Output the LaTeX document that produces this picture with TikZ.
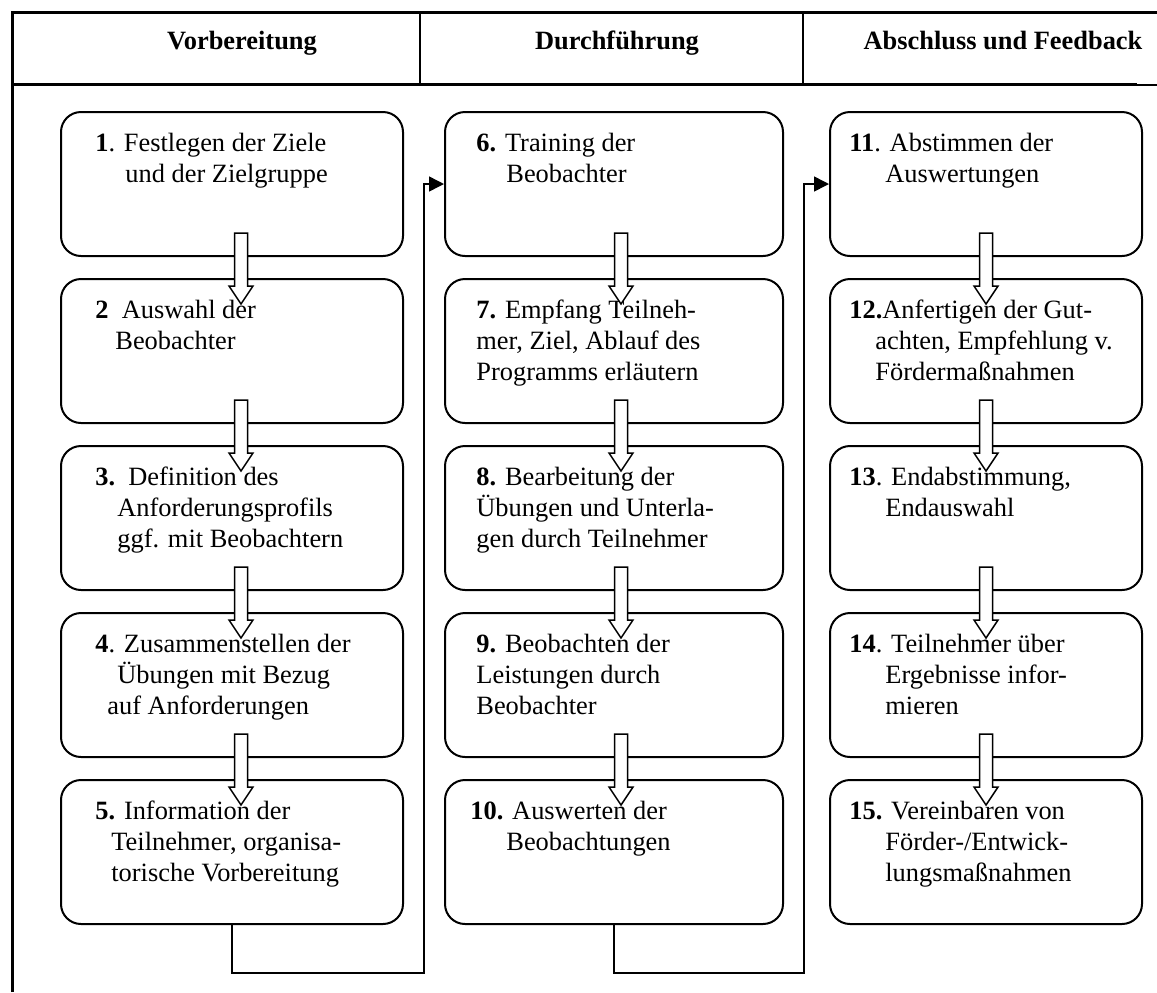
\documentclass[tikz,border=0pt]{standalone}
\usepackage{fontspec}
\setmainfont{Liberation Serif}
\usetikzlibrary{arrows.meta,calc}

\newcommand{\nr}[1]{\rule{0pt}{10pt}\textbf{#1}}
\newcommand{\ind}[1]{\hspace*{#1pt}}
\newcommand{\blockarrow}[1]{%
    \draw[block arrow] (#1) ++(-6.5,0) -- ++(0,53) -- ++(-5.5,0) -- ++(12,18)
        -- ++(12,-18) -- ++(-5.5,0) -- ++(0,-53) -- cycle;}

\begin{document}
\begin{tikzpicture}[x=0.5pt,y=-0.5pt]
    \tikzstyle{stage box}=[
        draw = black,
        line width = 1pt,
        rounded corners = 10pt,
        minimum height = 72pt,
        anchor = north west,
        inner sep = 0pt
    ]
    \tikzstyle{stage text}=[
        anchor = north west,
        inner sep = 0pt,
        align = left,
        font = \fontsize{13.2}{15.5}\selectfont
    ]
    \tikzstyle{phase title}=[
        anchor = base,
        inner sep = 0pt,
        font = \fontsize{13.2}{15}\selectfont\bfseries
    ]
    \tikzstyle{frame line}=[line width = 1.5pt]
    \tikzstyle{link}=[line width = 0.75pt, -{Triangle[length=7.5pt,width=7.5pt]}]
    \tikzstyle{block arrow}=[line width = 0.75pt, fill = white]

    \useasboundingbox (0,0) rectangle (1157,992);

    % frame and header
    \draw[frame line] (12,992) -- (12,12) -- (1157,12);
    \draw[frame line] (12,84) -- (1137,84);
    \draw[line width = 0.6pt] (1137,85) -- (1157,85);
    \draw[line width = 1pt] (420,12) -- (420,84);
    \draw[line width = 1pt] (803,12) -- (803,84);

    \node[phase title] (h1) at (242,49)  {Vorbereitung};
    \node[phase title] (h2) at (617,49)  {Durchführung};
    \node[phase title] (h3) at (1003,49) {Abschluss und Feedback};

    % stages
    \node[stage box, minimum width = 171pt] (b1)  at (60,111)  {};
    \node[stage box, minimum width = 171pt] (b2)  at (60,278)  {};
    \node[stage box, minimum width = 171pt] (b3)  at (60,445)  {};
    \node[stage box, minimum width = 171pt] (b4)  at (60,612)  {};
    \node[stage box, minimum width = 171pt] (b5)  at (60,779)  {};
    \node[stage box, minimum width = 169pt] (b6)  at (444,111) {};
    \node[stage box, minimum width = 169pt] (b7)  at (444,278) {};
    \node[stage box, minimum width = 169pt] (b8)  at (444,445) {};
    \node[stage box, minimum width = 169pt] (b9)  at (444,612) {};
    \node[stage box, minimum width = 169pt] (b10) at (444,779) {};
    \node[stage box, minimum width = 156pt] (b11) at (829,111) {};
    \node[stage box, minimum width = 156pt] (b12) at (829,278) {};
    \node[stage box, minimum width = 156pt] (b13) at (829,445) {};
    \node[stage box, minimum width = 156pt] (b14) at (829,612) {};
    \node[stage box, minimum width = 156pt] (b15) at (829,779) {};

    \node[stage text] (t1)  at ($(b1.north west)+(35,20)$)  {\nr{1}. Festlegen der Ziele\\ \ind{15}und der Zielgruppe};
    \node[stage text] (t2)  at ($(b2.north west)+(35,20)$)  {\nr{2}\ \ Auswahl der\\ \ind{10}Beobachter};
    \node[stage text] (t3)  at ($(b3.north west)+(35,20)$)  {\nr{3.}\ \ Definition des\\ \ind{11}Anforderungsprofils\\ \ind{11}ggf. mit Beobachtern};
    \node[stage text] (t4)  at ($(b4.north west)+(35,20)$)  {\nr{4}. Zusammenstellen der\\ \ind{11}Übungen mit Bezug\\ \ind{6}auf Anforderungen};
    \node[stage text] (t5)  at ($(b5.north west)+(35,20)$)  {\nr{5.} Information der\\ \ind{8}Teilnehmer, organisa-\\ \ind{8}torische Vorbereitung};
    \node[stage text] (t6)  at ($(b6.north west)+(32,20)$)  {\nr{6.} Training der\\ \ind{15}Beobachter};
    \node[stage text] (t7)  at ($(b7.north west)+(32,20)$)  {\nr{7.} Empfang Teilneh-\\ mer, Ziel, Ablauf des\\ Programms erläutern};
    \node[stage text] (t8)  at ($(b8.north west)+(32,20)$)  {\nr{8.} Bearbeitung der\\ Übungen und Unterla-\\ gen durch Teilnehmer};
    \node[stage text] (t9)  at ($(b9.north west)+(32,20)$)  {\nr{9.} Beobachten der\\ Leistungen durch\\ Beobachter};
    \node[stage text] (t10) at ($(b10.north west)+(26,20)$) {\nr{10.} Auswerten der\\ \ind{18}Beobachtungen};
    \node[stage text] (t11) at ($(b11.north west)+(20,20)$) {\nr{11}. Abstimmen der\\ \ind{18}Auswertungen};
    \node[stage text] (t12) at ($(b12.north west)+(20,20)$) {\nr{12.}Anfertigen der Gut-\\ \ind{13}achten, Empfehlung v.\\ \ind{13}Fördermaßnahmen};
    \node[stage text] (t13) at ($(b13.north west)+(20,20)$) {\nr{13}. Endabstimmung,\\ \ind{18}Endauswahl};
    \node[stage text] (t14) at ($(b14.north west)+(20,20)$) {\nr{14}. Teilnehmer über\\ \ind{18}Ergebnisse infor-\\ \ind{18}mieren};
    \node[stage text] (t15) at ($(b15.north west)+(20,20)$) {\nr{15.} Vereinbaren von\\ \ind{18}Förder-/Entwick-\\ \ind{18}lungsmaßnahmen};

    % arrows inside a phase
    \foreach \i/\dx in {1/9,2/9,3/9,4/9,6/7,7/7,8/7,9/7,11/0,12/0,13/0,14/0}
        \blockarrow{$(b\i.south)+(\dx,-24)$};

    % links between phases
    \coordinate (k1) at (424,973);
    \coordinate (k2) at (804,973);
    \draw[link] (b5.south) |- (k1) |- (b6.west);
    \draw[link] (b10.south) |- (k2) |- (b11.west);

\end{tikzpicture}
\end{document}
